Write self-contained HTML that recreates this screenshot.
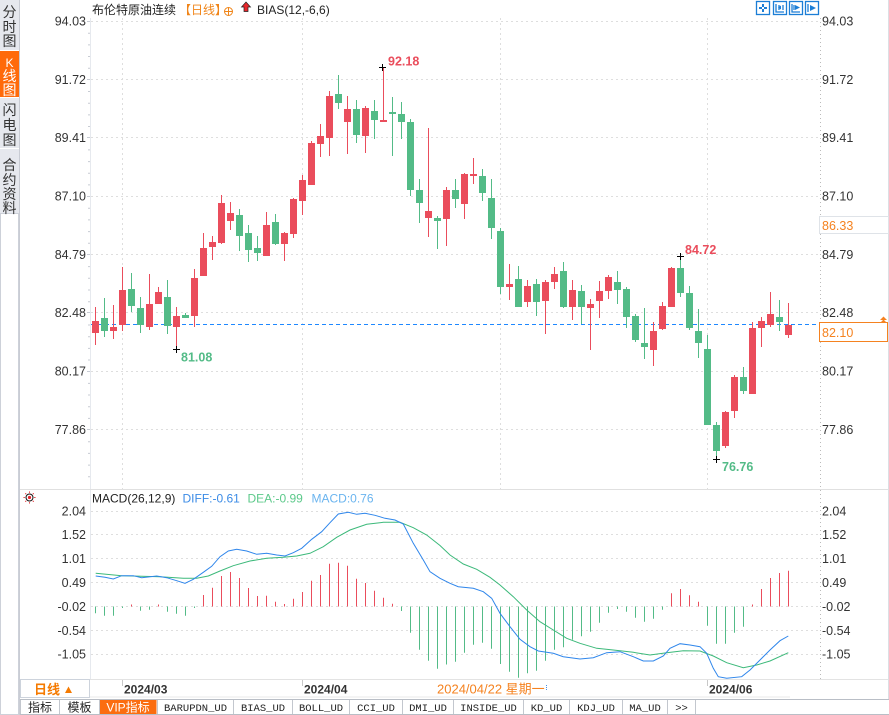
<!DOCTYPE html>
<html><head><meta charset="utf-8"><style>
html,body{margin:0;padding:0;background:#fff;}
svg{display:block;}
text{font-family:"Liberation Sans","Noto Sans CJK SC",sans-serif;}
.ax{font-size:12.5px;fill:#333;}
.cj{font-family:"Liberation Sans","Noto Sans CJK SC",sans-serif;}
.mono{font-family:"Liberation Mono","Noto Sans CJK SC",monospace;font-size:10.5px;fill:#222;}
</style></head><body>
<svg width="889" height="715" viewBox="0 0 889 715" xmlns="http://www.w3.org/2000/svg">
<rect width="889" height="715" fill="#fff"/>

<!-- sidebar -->
<rect x="0" y="0" width="19" height="213" fill="#e6e8ee"/>
<rect x="0" y="51" width="19" height="46" fill="#ff6a0a"/>
<line x1="0" y1="50.5" x2="19" y2="50.5" stroke="#fff"/>
<line x1="0" y1="97.5" x2="19" y2="97.5" stroke="#fff"/>
<line x1="0" y1="148.5" x2="19" y2="148.5" stroke="#fff"/>
<rect x="0.5" y="213.5" width="18" height="501" fill="#fff" stroke="#cdd1d9"/>
<line x1="19.5" y1="0" x2="19.5" y2="715" stroke="#c9ccd4"/>
<g class="cj" font-size="14" fill="#333" text-anchor="middle">
<text x="9.5" y="17">分</text><text x="9.5" y="32">时</text><text x="9.5" y="46">图</text>
<text x="9.5" y="67" fill="#fff" font-family="Liberation Serif" font-size="12">K</text><text x="9.5" y="81" fill="#fff">线</text><text x="9.5" y="95" fill="#fff">图</text>
<text x="9.5" y="115">闪</text><text x="9.5" y="130">电</text><text x="9.5" y="145">图</text>
<text x="9.5" y="170">合</text><text x="9.5" y="185">约</text><text x="9.5" y="199">资</text><text x="9.5" y="213">料</text>
</g>
<line x1="888.5" y1="0" x2="888.5" y2="699" stroke="#dcdfe4"/>

<!-- header -->
<text x="92" y="14" font-size="12" fill="#222">布伦特原油连续</text>
<text x="179" y="14" font-size="12" fill="#f08519">【日线】</text>
<circle cx="228.5" cy="11.5" r="4" fill="none" stroke="#f08519"/>
<line x1="224.5" y1="11.5" x2="232.5" y2="11.5" stroke="#f08519"/>
<line x1="228.5" y1="7.5" x2="228.5" y2="15.5" stroke="#f08519"/>
<path d="M246 2 L250.5 7 L248 7 L248 11.5 L244 11.5 L244 7 L241.5 7 Z" fill="#e8262b" stroke="#222" stroke-width="0.7"/>
<text x="257" y="14" font-size="12" fill="#222">BIAS(12,-6,6)</text>

<!-- top-right icons -->
<g fill="none" stroke="#1c7ed6" stroke-width="1.3">
<rect x="756.5" y="1.5" width="13" height="13"/>
<rect x="773.5" y="1.5" width="13" height="13"/>
<rect x="789.5" y="1.5" width="13" height="13"/>
<rect x="805.5" y="1.5" width="13" height="13"/>
<path d="M776 4 V12 H784 M779 5 V10 M783 5 V10"/>
<path d="M792 4 V12 H800 M794 5 V10"/>
<path d="M808 4 V12"/>
</g>
<g fill="#1c7ed6">
<rect x="762" y="4" width="2" height="3"/><rect x="762" y="9" width="2" height="3"/><rect x="759" y="7" width="3" height="2"/><rect x="764" y="7" width="3" height="2"/>
<path d="M778 7.5 L781 5.5 L781 9.5 Z"/>
<path d="M795 5 L800 7.5 L795 10 Z"/>
<path d="M810 5 L816 8 L810 11 Z"/>
</g>

<!-- main grid -->
<g stroke="#dedede" stroke-dasharray="2 3" stroke-width="1">
<line x1="91" y1="21.5" x2="820" y2="21.5"/>
<line x1="91" y1="79.5" x2="820" y2="79.5"/>
<line x1="91" y1="137.5" x2="820" y2="137.5"/>
<line x1="91" y1="196.5" x2="820" y2="196.5"/>
<line x1="91" y1="254.5" x2="820" y2="254.5"/>
<line x1="91" y1="312.5" x2="820" y2="312.5"/>
<line x1="91" y1="371.5" x2="820" y2="371.5"/>
<line x1="91" y1="429.5" x2="820" y2="429.5"/>
<line x1="122.5" y1="18" x2="122.5" y2="489"/>
<line x1="302.5" y1="18" x2="302.5" y2="489"/>
<line x1="500.5" y1="18" x2="500.5" y2="489"/>
<line x1="707.5" y1="18" x2="707.5" y2="489"/>
</g>
<line x1="90.5" y1="18" x2="90.5" y2="679" stroke="#e6e9ee"/>
<line x1="820.5" y1="18" x2="820.5" y2="679" stroke="#bbb" stroke-dasharray="1 3"/>
<!-- left minor ticks -->
<g stroke="#c8ccd4">
<path d="M87 21.5H90M88 33.2H90M88 44.9H90M88 56.5H90M88 68.2H90M87 79.5H90M88 91.5H90M88 103.2H90M88 114.9H90M88 126.5H90M87 137.5H90M88 149.9H90M88 161.6H90M88 173.2H90M88 184.9H90M87 196.5H90M88 208.3H90M88 219.9H90M88 231.6H90M88 243.3H90M87 254.5H90M88 266.6H90M88 278.3H90M88 290H90M88 301.7H90M87 312.5H90M88 325H90M88 336.7H90M88 348.4H90M88 360H90M87 371.5H90M88 383.4H90M88 395H90M88 406.7H90M88 418.4H90M87 429.5H90M88 441.7H90M88 453.4H90M88 465.1H90M88 476.8H90"/>
</g>

<!-- price axis labels -->
<g class="ax" text-anchor="end">
<text x="86" y="25.5">94.03</text><text x="86" y="84">91.72</text><text x="86" y="142">89.41</text><text x="86" y="200.5">87.10</text>
<text x="86" y="259">84.79</text><text x="86" y="317">82.48</text><text x="86" y="375.5">80.17</text><text x="86" y="434">77.86</text>
</g>
<g class="ax">
<text x="822" y="25.5">94.03</text><text x="822" y="84">91.72</text><text x="822" y="142">89.41</text><text x="822" y="200.5">87.10</text>
<text x="822" y="259">84.79</text><text x="822" y="317">82.48</text><text x="822" y="375.5">80.17</text><text x="822" y="434">77.86</text>
</g>
<rect x="819.5" y="216.5" width="69" height="17" fill="#fff" stroke="#dfe3e8"/>
<text x="822" y="230" font-size="12.5" fill="#f5821f">86.33</text>

<!-- last price line -->
<line x1="91" y1="324.5" x2="820" y2="324.5" stroke="#1e88ff" stroke-dasharray="4 3"/>
<rect x="819.5" y="322.5" width="68" height="19" fill="#fff" stroke="#f58220"/>
<text x="822" y="337" font-size="12.5" fill="#f5821f">82.10</text>
<path d="M880 320 L883.5 316.5 L887 320 Z M880 323 L883.5 319.5 L887 323 Z" fill="#f58220"/>

<!-- candles red -->
<g fill="#ea4d5c">
<rect x="95" y="307" width="1" height="38"/><rect x="92" y="321" width="7" height="12"/>
<rect x="113" y="305" width="1" height="34"/><rect x="110" y="327" width="7" height="4"/>
<rect x="122" y="267" width="1" height="64"/><rect x="119" y="290" width="7" height="35"/>
<rect x="149" y="274" width="1" height="56"/><rect x="146" y="304" width="7" height="23"/>
<rect x="158" y="287" width="1" height="17"/><rect x="155" y="292" width="7" height="12"/>
<rect x="176" y="307" width="1" height="42"/><rect x="173" y="316" width="7" height="11"/>
<rect x="194" y="269" width="1" height="58"/><rect x="191" y="278" width="7" height="38"/>
<rect x="203" y="233" width="1" height="43"/><rect x="200" y="248" width="7" height="28"/>
<rect x="212" y="236" width="1" height="24"/><rect x="209" y="242" width="7" height="5"/>
<rect x="221" y="195" width="1" height="49"/><rect x="218" y="203" width="7" height="40"/>
<rect x="230" y="202" width="1" height="28"/><rect x="227" y="213" width="7" height="8"/>
<rect x="266" y="212" width="1" height="44"/><rect x="263" y="225" width="7" height="31"/>
<rect x="284" y="232" width="1" height="29"/><rect x="281" y="233" width="7" height="11"/>
<rect x="293" y="198" width="1" height="40"/><rect x="290" y="199" width="7" height="35"/>
<rect x="302" y="175" width="1" height="40"/><rect x="299" y="180" width="7" height="21"/>
<rect x="311" y="141" width="1" height="44"/><rect x="308" y="143" width="7" height="42"/>
<rect x="320" y="124" width="1" height="33"/><rect x="317" y="136" width="7" height="8"/>
<rect x="329" y="91" width="1" height="65"/><rect x="326" y="96" width="7" height="42"/>
<rect x="347" y="96" width="1" height="58"/><rect x="344" y="109" width="7" height="13"/>
<rect x="365" y="106" width="1" height="47"/><rect x="362" y="108" width="7" height="28"/>
<rect x="383" y="67" width="1" height="55"/><rect x="380" y="120" width="7" height="2"/>
<rect x="428" y="128" width="1" height="109"/><rect x="425" y="211" width="7" height="7"/>
<rect x="446" y="187" width="1" height="59"/><rect x="443" y="190" width="7" height="29"/>
<rect x="464" y="173" width="1" height="46"/><rect x="461" y="174" width="7" height="30"/>
<rect x="473" y="158" width="1" height="26"/><rect x="470" y="174" width="7" height="2"/>
<rect x="509" y="264" width="1" height="36"/><rect x="506" y="284" width="7" height="3"/>
<rect x="527" y="280" width="1" height="27"/><rect x="524" y="286" width="7" height="16"/>
<rect x="545" y="280" width="1" height="54"/><rect x="542" y="282" width="7" height="19"/>
<rect x="554" y="267" width="1" height="22"/><rect x="551" y="274" width="7" height="8"/>
<rect x="572" y="280" width="1" height="40"/><rect x="569" y="290" width="7" height="17"/>
<rect x="590" y="299" width="1" height="51"/><rect x="587" y="304" width="7" height="4"/>
<rect x="599" y="281" width="1" height="37"/><rect x="596" y="291" width="7" height="10"/>
<rect x="608" y="275" width="1" height="24"/><rect x="605" y="277" width="7" height="14"/>
<rect x="653" y="322" width="1" height="44"/><rect x="650" y="331" width="7" height="19"/>
<rect x="662" y="302" width="1" height="28"/><rect x="659" y="306" width="7" height="23"/>
<rect x="671" y="267" width="1" height="40"/><rect x="668" y="268" width="7" height="39"/>
<rect x="725" y="411" width="1" height="37"/><rect x="722" y="412" width="7" height="34"/>
<rect x="734" y="375" width="1" height="43"/><rect x="731" y="377" width="7" height="34"/>
<rect x="752" y="322" width="1" height="72"/><rect x="749" y="328" width="7" height="66"/>
<rect x="761" y="317" width="1" height="30"/><rect x="758" y="321" width="7" height="7"/>
<rect x="770" y="292" width="1" height="35"/><rect x="767" y="314" width="7" height="11"/>
<rect x="788" y="303" width="1" height="35"/><rect x="785" y="325" width="7" height="10"/>
</g>
<!-- candles green -->
<g fill="#53bb87">
<rect x="104" y="298" width="1" height="39"/><rect x="101" y="318" width="7" height="13"/>
<rect x="131" y="273" width="1" height="39"/><rect x="128" y="289" width="7" height="17"/>
<rect x="140" y="297" width="1" height="36"/><rect x="137" y="308" width="7" height="17"/>
<rect x="167" y="280" width="1" height="54"/><rect x="164" y="297" width="7" height="29"/>
<rect x="185" y="313" width="1" height="5"/><rect x="182" y="315" width="7" height="3"/>
<rect x="239" y="209" width="1" height="42"/><rect x="236" y="215" width="7" height="21"/>
<rect x="248" y="225" width="1" height="37"/><rect x="245" y="233" width="7" height="17"/>
<rect x="257" y="236" width="1" height="25"/><rect x="254" y="248" width="7" height="5"/>
<rect x="275" y="214" width="1" height="31"/><rect x="272" y="222" width="7" height="22"/>
<rect x="338" y="75" width="1" height="34"/><rect x="335" y="94" width="7" height="9"/>
<rect x="356" y="100" width="1" height="43"/><rect x="353" y="109" width="7" height="26"/>
<rect x="374" y="100" width="1" height="39"/><rect x="371" y="111" width="7" height="9"/>
<rect x="392" y="97" width="1" height="59"/><rect x="389" y="112" width="7" height="2"/>
<rect x="401" y="102" width="1" height="37"/><rect x="398" y="114" width="7" height="8"/>
<rect x="410" y="119" width="1" height="77"/><rect x="407" y="122" width="7" height="68"/>
<rect x="419" y="179" width="1" height="44"/><rect x="416" y="190" width="7" height="13"/>
<rect x="437" y="216" width="1" height="33"/><rect x="434" y="218" width="7" height="3"/>
<rect x="455" y="179" width="1" height="29"/><rect x="452" y="190" width="7" height="9"/>
<rect x="482" y="169" width="1" height="32"/><rect x="479" y="176" width="7" height="17"/>
<rect x="491" y="179" width="1" height="60"/><rect x="488" y="198" width="7" height="30"/>
<rect x="500" y="228" width="1" height="66"/><rect x="497" y="231" width="7" height="56"/>
<rect x="518" y="266" width="1" height="41"/><rect x="515" y="279" width="7" height="28"/>
<rect x="536" y="279" width="1" height="37"/><rect x="533" y="284" width="7" height="18"/>
<rect x="563" y="262" width="1" height="46"/><rect x="560" y="271" width="7" height="36"/>
<rect x="581" y="285" width="1" height="39"/><rect x="578" y="291" width="7" height="16"/>
<rect x="617" y="271" width="1" height="33"/><rect x="614" y="282" width="7" height="8"/>
<rect x="626" y="287" width="1" height="41"/><rect x="623" y="289" width="7" height="28"/>
<rect x="635" y="314" width="1" height="28"/><rect x="632" y="316" width="7" height="24"/>
<rect x="644" y="308" width="1" height="51"/><rect x="641" y="343" width="7" height="4"/>
<rect x="680" y="257" width="1" height="40"/><rect x="677" y="268" width="7" height="25"/>
<rect x="689" y="286" width="1" height="44"/><rect x="686" y="293" width="7" height="35"/>
<rect x="698" y="309" width="1" height="49"/><rect x="695" y="331" width="7" height="12"/>
<rect x="707" y="335" width="1" height="90"/><rect x="704" y="349" width="7" height="76"/>
<rect x="716" y="422" width="1" height="37"/><rect x="713" y="425" width="7" height="26"/>
<rect x="743" y="367" width="1" height="27"/><rect x="740" y="377" width="7" height="14"/>
<rect x="779" y="300" width="1" height="31"/><rect x="776" y="317" width="7" height="5"/>
</g>

<!-- high/low markers -->
<g stroke="#000" stroke-width="1">
<path d="M379 67.5H386M382.5 64V71"/>
<path d="M173 349.5H180M176.5 346V353"/>
<path d="M677 256.5H684M680.5 253V260"/>
<path d="M713 459.5H720M716.5 456V463"/>
</g>
<g font-size="12.5" font-weight="bold">
<text x="388" y="65.5" fill="#ea4d5c">92.18</text>
<text x="685" y="254" fill="#ea4d5c">84.72</text>
<text x="181" y="361.5" fill="#53bb87">81.08</text>
<text x="722" y="471" fill="#53bb87">76.76</text>
</g>

<!-- separator -->
<line x1="20" y1="489.5" x2="888" y2="489.5" stroke="#e0e0e0"/>

<!-- MACD legend -->
<g>
<circle cx="29.5" cy="497.5" r="3.5" fill="none" stroke="#111"/>
<circle cx="29.5" cy="497.5" r="1.6" fill="#e8262b"/>
<path d="M29.5 491.5V492.8M29.5 502.2V503.5M23.5 497.5H24.8M34.2 497.5H35.5M25.3 493.3L26.2 494.2M32.8 500.8L33.7 501.7M33.7 493.3L32.8 494.2M26.2 500.8L25.3 501.7" stroke="#e8262b"/>
</g>
<text x="92" y="502.5" font-size="12" fill="#222">MACD(26,12,9)</text>
<text x="182.5" y="502.5" font-size="12" fill="#3b8be6">DIFF:-0.61</text>
<text x="247.5" y="502.5" font-size="12" fill="#5cc98a">DEA:-0.99</text>
<text x="311.5" y="502.5" font-size="12" fill="#6ab4ef">MACD:0.76</text>

<!-- MACD grid -->
<g stroke="#dedede" stroke-dasharray="2 3">
<line x1="91" y1="511.5" x2="820" y2="511.5"/>
<line x1="91" y1="534.5" x2="820" y2="534.5"/>
<line x1="91" y1="558.5" x2="820" y2="558.5"/>
<line x1="91" y1="582.5" x2="820" y2="582.5"/>
<line x1="91" y1="606.5" x2="820" y2="606.5"/>
<line x1="91" y1="630.5" x2="820" y2="630.5"/>
<line x1="91" y1="654.5" x2="820" y2="654.5"/>
</g>
<g class="ax" text-anchor="end">
<text x="86" y="515.5">2.04</text><text x="86" y="539">1.52</text><text x="86" y="563">1.01</text><text x="86" y="587">0.49</text>
<text x="86" y="611">-0.02</text><text x="86" y="635">-0.54</text><text x="86" y="658.5">-1.05</text>
</g>
<g class="ax">
<text x="822" y="515.5">2.04</text><text x="822" y="539">1.52</text><text x="822" y="563">1.01</text><text x="822" y="587">0.49</text>
<text x="822" y="611">-0.02</text><text x="822" y="635">-0.54</text><text x="822" y="658.5">-1.05</text>
</g>

<!-- MACD histogram -->
<path stroke="#ea4d5c" stroke-width="1" fill="none" d="M131.5 606.5V604.5M158.5 606.5V604.5M203.5 606.5V595M212.5 606.5V587.7M221.5 606.5V576M230.5 606.5V572M239.5 606.5V578M248.5 606.5V588M257.5 606.5V596M266.5 606.5V595.7M275.5 606.5V601.7M284.5 606.5V604M293.5 606.5V598.7M302.5 606.5V592M311.5 606.5V580.7M320.5 606.5V575M329.5 606.5V563.7M338.5 606.5V562.7M347.5 606.5V565.7M356.5 606.5V578.7M365.5 606.5V583M374.5 606.5V590.7M383.5 606.5V597.7M392.5 606.5V603.7M671.5 606.5V593.3M680.5 606.5V589M689.5 606.5V595.3M698.5 606.5V601.7M752.5 606.5V604.5M761.5 606.5V589M770.5 606.5V578M779.5 606.5V573M788.5 606.5V570.7"/>
<path stroke="#53bb87" stroke-width="1" fill="none" d="M95.5 606.5V613.3M104.5 606.5V615.7M113.5 606.5V615.7M122.5 606.5V608M140.5 606.5V610.7M149.5 606.5V609.7M167.5 606.5V611.7M176.5 606.5V613.7M185.5 606.5V615.7M194.5 606.5V608M401.5 606.5V611M410.5 606.5V632.7M419.5 606.5V649.7M428.5 606.5V660.7M437.5 606.5V668.7M446.5 606.5V664.5M455.5 606.5V661.7M464.5 606.5V652.7M473.5 606.5V644.7M482.5 606.5V642.7M491.5 606.5V648.7M500.5 606.5V664M509.5 606.5V671.7M518.5 606.5V677.7M527.5 606.5V673.3M536.5 606.5V670.7M545.5 606.5V660.7M554.5 606.5V649.7M563.5 606.5V647.3M572.5 606.5V639.7M581.5 606.5V636.3M590.5 606.5V631.7M599.5 606.5V622.7M608.5 606.5V612.7M617.5 606.5V609M626.5 606.5V611.7M635.5 606.5V617.7M644.5 606.5V621.7M653.5 606.5V618.7M662.5 606.5V609.7M707.5 606.5V625.7M716.5 606.5V643.7M725.5 606.5V643.7M734.5 606.5V632.7M743.5 606.5V626.7"/>

<!-- DEA -->
<polyline fill="none" stroke="#3cb97a" stroke-width="1" points="95.7,573.3 121.7,575.7 160,576.7 183.3,578.3 196.7,578.3 208.3,576 220,571 233.3,565.7 250,561 266.7,558.3 283.3,557.3 296.7,556 310,553.3 323.3,546.7 336.7,537.3 350,530 366.7,524.3 383.3,522.3 400,522.3 413.3,527.7 426.7,535 440,545.5 450,555 463.3,564 476.7,569.3 490,577.3 500,585 513.3,596.7 526.7,610 540,621.7 553.3,630 566.7,638.3 580,643.3 596.7,648.3 613.3,650 633.3,652.3 650,655 666.7,652.7 683.3,650.7 700,651 713.3,656 726.7,662.7 743.3,667.7 756.7,665 770,661 788.3,652.7"/>
<!-- DIFF -->
<polyline fill="none" stroke="#2f86eb" stroke-width="1" points="95.7,576 105,577.3 113.3,579 121.7,575.7 133.3,575.7 141.7,577.7 156.7,576 166.7,577.7 176.7,580.7 185,583.3 193.3,579.3 203.3,572.3 211.7,566.3 220,556.7 228.3,551 236.7,549.3 246.7,551 256.7,554.3 266.7,553.3 276.7,555 285,556 293.3,552.7 301.7,548.3 311.7,539.3 321.7,531.7 330,522.7 338.3,514 348.3,512.3 356.7,514.3 365,513.3 375,515.3 385,518.3 395,520 403.3,524 413.3,543.3 423.3,560 430,571.7 440,578.3 450,583.3 458.3,586.7 473.3,588.3 483.3,591.7 491.7,598.3 500,613.3 510,626.7 520,639.3 530,646.7 538.3,651 553.3,653.3 563.3,656.7 580,659 593.3,657.7 606.7,652.7 620,651.7 633.3,656.7 643.3,661 653.3,661 663.3,656 670,648.3 680,643.7 690,645 700,646.7 706.7,653.3 713.3,668.3 718.3,676.7 726.7,678.3 741.7,676.7 750,670 760,660 770,650 780,640.7 788.3,636"/>

<!-- date axis -->
<line x1="20" y1="679.5" x2="888" y2="679.5" stroke="#e3e3e3"/>
<rect x="20.5" y="679.5" width="69" height="18" fill="#fff" stroke="#cdd3dc"/>
<text x="34" y="694" font-size="13" font-weight="bold" fill="#f57a00">日线</text>
<path d="M65 693 L68.5 686.5 L72 693 Z" fill="#f57a00"/>
<g stroke="#c8c8c8"><path d="M122.5 680V686M302.5 680V686M707.5 680V686"/></g>
<g font-size="12" font-weight="bold" fill="#333">
<text x="124" y="693.5">2024/03</text>
<text x="304" y="693.5">2024/04</text>
<text x="709" y="693.5">2024/06</text>
</g>
<text x="437" y="693.5" font-size="13" fill="#f5821f">2024/04/22 星期一</text>
<line x1="546.5" y1="685" x2="546.5" y2="690" stroke="#4a90e2" stroke-dasharray="1 1"/>
<line x1="90" y1="697" x2="790" y2="697" stroke="#e8e8e8"/>

<!-- tab bar -->
<rect x="20" y="699" width="869" height="16" fill="#fff"/>
<line x1="20" y1="699.5" x2="889" y2="699.5" stroke="#b9bec6"/>
<line x1="20" y1="714.5" x2="889" y2="714.5" stroke="#b9bec6"/>
<rect x="99.5" y="700" width="57" height="14" fill="#fb6d10"/>
<g stroke="#c3c7ce">
<path d="M20.5 700V714M59.5 700V714M99.5 700V714M157.5 700V714M233.5 700V714M292.5 700V714M349.5 700V714M402.5 700V714M453.5 700V714M523.5 700V714M569.5 700V714M622.5 700V714M667.5 700V714M695.5 700V714"/>
</g>
<g text-anchor="middle">
<text x="40" y="711.5" font-size="12" fill="#222">指标</text>
<text x="79.5" y="711.5" font-size="12" fill="#222">模板</text>
<text x="128" y="711.5" font-size="12" fill="#fff" font-family="Liberation Mono, Noto Sans CJK SC, monospace">VIP指标</text>
<text class="mono" x="195.5" y="711">BARUPDN_UD</text>
<text class="mono" x="263" y="711">BIAS_UD</text>
<text class="mono" x="321" y="711">BOLL_UD</text>
<text class="mono" x="376" y="711">CCI_UD</text>
<text class="mono" x="428" y="711">DMI_UD</text>
<text class="mono" x="488.5" y="711">INSIDE_UD</text>
<text class="mono" x="546.5" y="711">KD_UD</text>
<text class="mono" x="596" y="711">KDJ_UD</text>
<text class="mono" x="645" y="711">MA_UD</text>
<text class="mono" x="681.5" y="711">&gt;&gt;</text>
</g>
</svg>
</body></html>
